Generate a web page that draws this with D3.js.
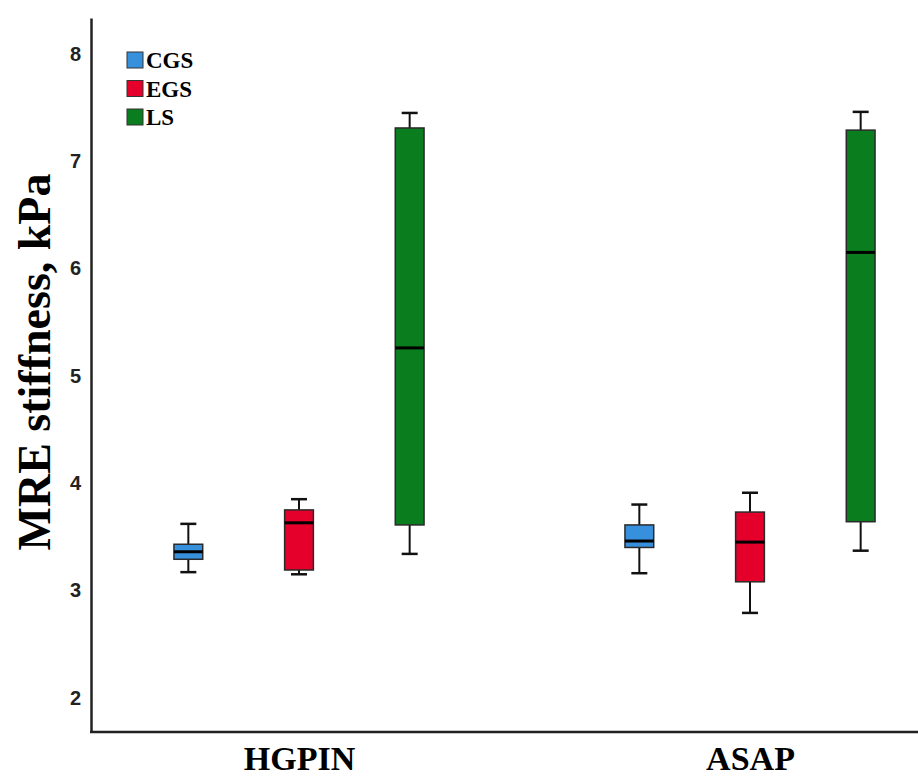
<!DOCTYPE html>
<html lang="en">
<head>
    <meta charset="UTF-8">
    <script src="https://d3js.org/d3.v7.min.js"></script>
    <style>
        body { margin: 0; background: #fff; }
    </style>
</head>
<body>
    <svg class="chart"></svg>
    <script>
        // data
        var groups = ["HGPIN", "ASAP"];
        var series = ["CGS", "EGS", "LS"];
        var colors = ["#3790dc", "#e5002c", "#0a7d1e"];
        var yTicks = [2, 3, 4, 5, 6, 7, 8];

        // [whiskerLow, q1, median, q3, whiskerHigh] per group, per series
        var cgsStats = [[3.17, 3.29, 3.36, 3.43, 3.62], [3.16, 3.40, 3.46, 3.61, 3.80]];
        var egsStats = [[3.15, 3.19, 3.63, 3.75, 3.85], [2.79, 3.08, 3.45, 3.73, 3.91]];
        var lsStats = [[3.34, 3.61, 5.26, 7.31, 7.45], [3.37, 3.64, 6.15, 7.29, 7.46]];

        var allStats = [cgsStats, egsStats, lsStats];

        var width = 918, height = 776;
        var svg = d3.select(".chart")
            .attr("width", width)
            .attr("height", height)
            .style("font-family", "'Liberation Serif', 'Times New Roman', serif");

        var y = d3.scaleLinear().domain([1.68, 8.335]).range([732, 18]);
        var x = d3.scalePoint().domain(groups).range([299, 750]);
        var xSub = d3.scaleBand().domain(series).range([-166, 166]).paddingInner(0.74).paddingOuter(0.37);

        var boxes = [];
        groups.forEach(function(g, gi) {
            series.forEach(function(s, si) {
                var st = allStats[si][gi];
                boxes.push({ group: g, series: s, color: colors[si],
                    lo: st[0], q1: st[1], med: st[2], q3: st[3], hi: st[4] });
            });
        });

        var bw = xSub.bandwidth();
        var cap = 16;

        var bx = svg.append("g").selectAll("g")
            .data(boxes)
            .enter().append("g")
            .attr("transform", function(d) {
                return "translate(" + (x(d.group) + xSub(d.series) + bw / 2) + ",0)";
            });

        // whiskers
        bx.append("line")
            .attr("x1", 0).attr("x2", 0)
            .attr("y1", function(d) { return y(d.hi); })
            .attr("y2", function(d) { return y(d.lo); })
            .attr("stroke", "#111").attr("stroke-width", 2);
        bx.append("line")
            .attr("x1", -cap / 2).attr("x2", cap / 2)
            .attr("y1", function(d) { return y(d.hi); })
            .attr("y2", function(d) { return y(d.hi); })
            .attr("stroke", "#111").attr("stroke-width", 2.5);
        bx.append("line")
            .attr("x1", -cap / 2).attr("x2", cap / 2)
            .attr("y1", function(d) { return y(d.lo); })
            .attr("y2", function(d) { return y(d.lo); })
            .attr("stroke", "#111").attr("stroke-width", 2.5);

        // boxes
        bx.append("rect")
            .attr("x", -bw / 2)
            .attr("width", bw)
            .attr("y", function(d) { return y(d.q3); })
            .attr("height", function(d) { return y(d.q1) - y(d.q3); })
            .attr("fill", function(d) { return d.color; })
            .attr("stroke", "#2a2a2a").attr("stroke-width", 1.5);

        // medians
        bx.append("line")
            .attr("x1", -bw / 2).attr("x2", bw / 2)
            .attr("y1", function(d) { return y(d.med); })
            .attr("y2", function(d) { return y(d.med); })
            .attr("stroke", "#000").attr("stroke-width", 3);

        // axes
        var yAxis = svg.append("g")
            .attr("transform", "translate(91,0)")
            .call(d3.axisLeft(y).tickValues(yTicks).tickSize(0).tickPadding(10).tickFormat(d3.format("d")));
        yAxis.select(".domain").attr("stroke", "#222").attr("stroke-width", 2.5);
        yAxis.selectAll("text")
            .attr("font-family", "'Liberation Sans', Arial, sans-serif")
            .attr("font-weight", "bold")
            .attr("font-size", 20)
            .attr("fill", "#222");

        svg.append("line")
            .attr("x1", 90).attr("x2", width)
            .attr("y1", 732).attr("y2", 732)
            .attr("stroke", "#222").attr("stroke-width", 2.5);

        var xAxis = svg.append("g")
            .attr("transform", "translate(0,732)")
            .call(d3.axisBottom(x).tickSize(0).tickPadding(0));
        xAxis.select(".domain").remove();
        xAxis.selectAll("text")
            .attr("dy", 38)
            .attr("font-family", "'Liberation Serif', 'Times New Roman', serif")
            .attr("font-weight", "bold")
            .attr("font-size", 34)
            .attr("fill", "#000");

        // y title
        svg.append("text")
            .attr("transform", "translate(50,362) rotate(-90)")
            .attr("text-anchor", "middle")
            .attr("font-weight", "bold")
            .attr("font-size", 46)
            .text("MRE stiffness, kPa");

        // legend
        var leg = svg.append("g").selectAll("g")
            .data(series)
            .enter().append("g")
            .attr("transform", function(d, i) { return "translate(127," + (52 + i * 28.5) + ")"; });
        leg.append("rect")
            .attr("width", 16).attr("height", 16)
            .attr("fill", function(d, i) { return colors[i]; })
            .attr("stroke", "#333").attr("stroke-width", 1);
        leg.append("text")
            .attr("x", 19).attr("y", 16)
            .attr("font-weight", "bold")
            .attr("font-size", 23)
            .text(function(d) { return d; });
    </script>
</body>
</html>
